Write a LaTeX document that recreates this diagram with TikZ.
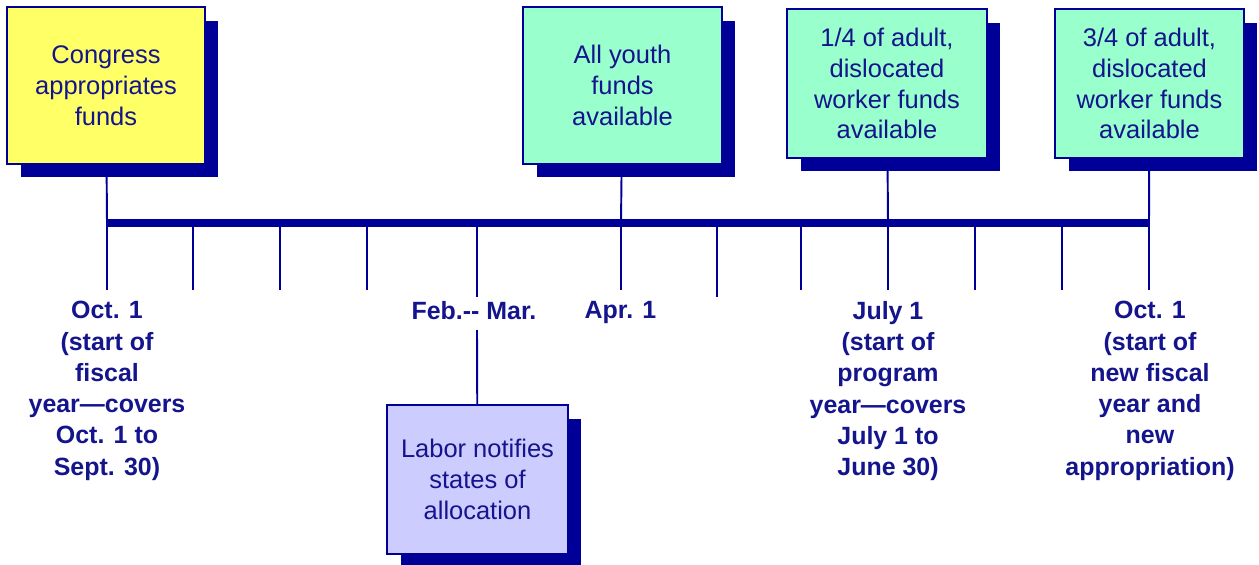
\documentclass[tikz,border=0pt]{standalone}
\usepackage{fontspec}
\setmainfont{Liberation Sans}
\usetikzlibrary{shadows}
\definecolor{navy}{RGB}{0,0,153}
\definecolor{navytext}{RGB}{20,20,140}
\definecolor{boxyellow}{RGB}{255,255,102}
\definecolor{boxgreen}{RGB}{153,255,204}
\definecolor{boxlilac}{RGB}{204,204,255}
\tikzstyle{event} = [rectangle, draw=navy, line width=0.8pt, text=navytext, align=center, font=\fontsize{14.5}{17.6}\selectfont, drop shadow={shadow xshift=0.27cm, shadow yshift=-0.27cm, fill=navy, opacity=1}]
\tikzstyle{datelabel} = [text=navytext, align=center, inner sep=0pt, anchor=north, font=\bfseries\fontsize{14.2}{17.8}\selectfont]
\tikzstyle{timebar} = [draw=navy, line width=0.16cm]
\tikzstyle{tickline} = [draw=navy, line width=1.1pt]

\begin{document}
\begin{tikzpicture}[x=0.02cm, y=-0.02cm]
\useasboundingbox (0,0) rectangle (1259,565);

% points on the time line
\coordinate (t1) at (107,223);
\coordinate (t2) at (193,223);
\coordinate (t3) at (280,223);
\coordinate (t4) at (367,223);
\coordinate (t5) at (477,223);
\coordinate (t6) at (621,223);
\coordinate (t7) at (717,223);
\coordinate (t8) at (801,223);
\coordinate (t9) at (888,223);
\coordinate (t10) at (975,223);
\coordinate (t11) at (1062,223);
\coordinate (t12) at (1149,223);
\coordinate (d1) at (107,290);
\coordinate (d2) at (193,290);
\coordinate (d3) at (280,290);
\coordinate (d4) at (367,290);
\coordinate (d5) at (477,297);
\coordinate (f5) at (477,330);
\coordinate (d6) at (621,290);
\coordinate (d7) at (717,297);
\coordinate (d8) at (801,290);
\coordinate (d9) at (888,290);
\coordinate (d10) at (975,290);
\coordinate (d11) at (1062,290);
\coordinate (d12) at (1149,290);

\node (congress) [event, fill=boxyellow, minimum width=3.96cm, minimum height=3.14cm] at (106,85.5) {Congress\\appropriates\\funds};
\node (youth) [event, fill=boxgreen, minimum width=3.98cm, minimum height=3.14cm] at (622.5,85.5) {All youth\\funds\\available};
\node (quarter) [event, fill=boxgreen, minimum width=4cm, minimum height=2.98cm] at (887,83.5) {1/4 of adult,\\dislocated\\worker funds\\available};
\node (threequarter) [event, fill=boxgreen, minimum width=3.78cm, minimum height=2.98cm] at (1149.5,83.5) {3/4 of adult,\\dislocated\\worker funds\\available};
\node (labor) [event, fill=boxlilac, minimum width=3.62cm, minimum height=2.98cm] at (477.5,479.5) {Labor notifies\\states of\\allocation};

\node (octone) [datelabel] at (107,301) {Oct. 1\\(start of\\fiscal\\year—covers\\Oct. 1 to\\Sept. 30)};
\node (febmar) [datelabel] at (474,301) {Feb.-\kern0pt- Mar.};
\node (aprone) [datelabel] at (620.5,301) {Apr. 1};
\node (julyone) [datelabel] at (888,301) {July 1\\(start of\\program\\year—covers\\July 1 to\\June 30)};
\node (octtwo) [datelabel] at (1150,301) {Oct. 1\\(start of\\new fiscal\\year and\\new\\appropriation)};

\draw [tickline] (congress) -- (t1);
\draw [tickline] (youth) -- (t6);
\draw [tickline] (quarter) -- (t9);
\draw [tickline] (threequarter) -- (t12);
\draw [tickline] (f5) -- (labor);

\draw [tickline] (t1) -- (d1);
\draw [tickline] (t2) -- (d2);
\draw [tickline] (t3) -- (d3);
\draw [tickline] (t4) -- (d4);
\draw [tickline] (t5) -- (d5);
\draw [tickline] (t6) -- (d6);
\draw [tickline] (t7) -- (d7);
\draw [tickline] (t8) -- (d8);
\draw [tickline] (t9) -- (d9);
\draw [tickline] (t10) -- (d10);
\draw [tickline] (t11) -- (d11);
\draw [tickline] (t12) -- (d12);

\draw [timebar] (t1) -- (t12);

\end{tikzpicture}
\end{document}
